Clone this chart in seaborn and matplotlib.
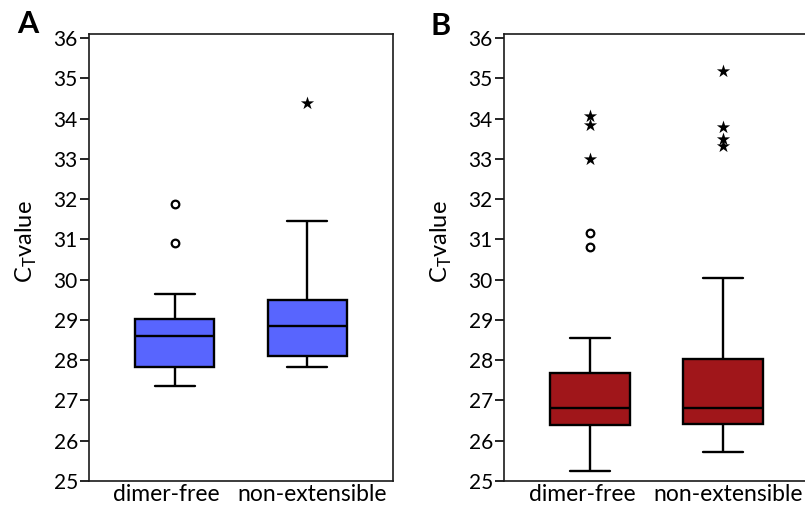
import matplotlib

matplotlib.use("Agg")
import matplotlib.pyplot as plt
import matplotlib.transforms as mtransforms
import numpy as np
import pandas as pd
import seaborn as sns

groups = ["dimer-free", "non-extensible"]

# five-number summaries (lower whisker, Q1, median, Q3, upper whisker)
a_dimer_free = [27.35, 27.82, 28.61, 29.03, 29.64]
a_non_extensible = [27.82, 28.10, 28.84, 29.49, 31.45]
b_dimer_free = [25.25, 26.38, 26.82, 27.68, 28.56]
b_non_extensible = [25.71, 26.41, 26.82, 28.02, 30.03]

# outliers (circles) and extremes (stars)
a_circles = {"dimer-free": [31.89, 30.92], "non-extensible": []}
a_stars = {"dimer-free": [], "non-extensible": [34.38]}
b_circles = {"dimer-free": [31.15, 30.81], "non-extensible": []}
b_stars = {"dimer-free": [34.06, 33.85, 32.99], "non-extensible": [35.19, 33.79, 33.50, 33.31]}

y_ticks = list(range(25, 37))

sns.set_style("white")
plt.rcParams["font.family"] = ["Lato", "DejaVu Sans"]
plt.rcParams["mathtext.fontset"] = "custom"
plt.rcParams["mathtext.rm"] = "Lato"
plt.rcParams["text.color"] = "black"
plt.rcParams["axes.labelcolor"] = "black"
plt.rcParams["xtick.color"] = "black"
plt.rcParams["ytick.color"] = "black"


def long_frame(series: dict[str, list[float]]) -> pd.DataFrame:
    rows = [{"group": g, "value": v} for g, vals in series.items() for v in vals]
    return pd.DataFrame(rows, columns=["group", "value"])


def draw_panel(fig, ax, dimer, nonext, circles, stars, color):
    boxes = long_frame({"dimer-free": dimer, "non-extensible": nonext})
    sns.boxplot(
        data=boxes, x="group", y="value", order=groups, ax=ax,
        color=color, saturation=1, width=0.6, whis=np.inf, showfliers=False,
        linecolor="black", linewidth=1.7,
    )
    circ = long_frame(circles)
    if not circ.empty:
        sns.stripplot(
            data=circ, x="group", y="value", order=groups, ax=ax, jitter=False,
            marker="o", color="white", edgecolor="black", linewidth=1.6, size=5.5, zorder=5,
        )
    st = long_frame(stars)
    if not st.empty:
        sns.stripplot(
            data=st, x="group", y="value", order=groups, ax=ax, jitter=False,
            marker="*", color="black", linewidth=0, size=10, zorder=5,
        )
    ax.set_xlim(-0.645, 1.645)
    ax.set_ylim(25, 36.1)
    ax.set_yticks(y_ticks)
    ax.tick_params(axis="y", left=True, length=6.5, width=1.2, pad=1.5, labelsize=15)
    ax.tick_params(axis="x", bottom=False, length=0, pad=2, labelsize=16.5)
    ax.set_xlabel("")
    ax.set_ylabel(r"C$_\mathregular{T}$value", fontsize=17)
    ax.yaxis.set_label_coords(-0.165, 0.535)
    # category labels sit a little off the box centres in the original
    for label, dx in zip(ax.get_xticklabels(), [-8, 5]):
        shift = mtransforms.ScaledTranslation(dx / 100, 0, fig.dpi_scale_trans)
        label.set_transform(label.get_transform() + shift)
    for spine in ax.spines.values():
        spine.set_visible(True)
        spine.set_color("#1a1a1a")
        spine.set_linewidth(1.2)


fig = plt.figure(figsize=(8.05, 5.08), dpi=100)
ax_a = fig.add_axes([89 / 805, 27 / 508, 304 / 805, 447 / 508])
ax_b = fig.add_axes([504 / 805, 27 / 508, 305 / 805, 447 / 508])

draw_panel(fig, ax_a, a_dimer_free, a_non_extensible, a_circles, a_stars, "#5865FE")
draw_panel(fig, ax_b, b_dimer_free, b_non_extensible, b_circles, b_stars, "#A0161A")

fig.text(17 / 805, 1 - 33 / 508, "A", fontsize=22, fontweight="bold")
fig.text(430 / 805, 1 - 35 / 508, "B", fontsize=22, fontweight="bold")

fig.savefig("out.png", dpi=100)
plt.close(fig)
